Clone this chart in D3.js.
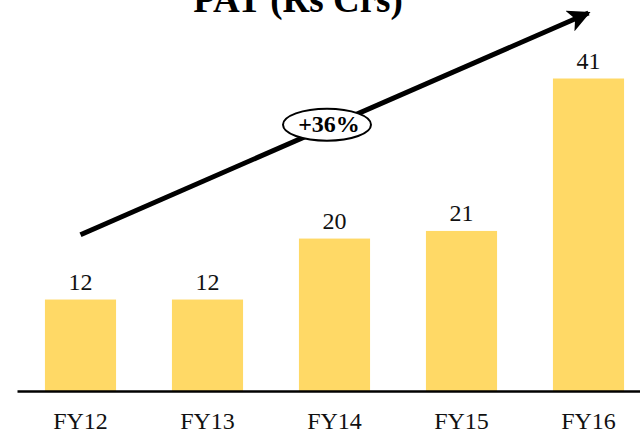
<!DOCTYPE html>
<html>
<head>
<meta charset="utf-8">
<script src="https://cdn.jsdelivr.net/npm/d3@7"></script>
<style>
  body { margin: 0; background: #fff; }
  svg { display: block; font-family: "Liberation Serif", "Times New Roman", serif; }
</style>
</head>
<body>
<div id="grafico"></div>
<script>
// Dados do gráfico
const anos = ["FY12", "FY13", "FY14", "FY15", "FY16"];
const valores = [12, 12, 20, 21, 41];
const titulo = "PAT (Rs Crs)";
const cagr = "+36%";
// seta de tendência (em unidades do gráfico)
const setaInicio = { ano: "FY12", valor: 20.5 };
const setaFim = { ano: "FY16", valor: 49.6 };

const width = 640, height = 435;
const base = 391;

const svg = d3.select("#grafico")
  .append("svg")
  .attr("width", width)
  .attr("height", height);

const x = d3.scaleBand()
  .domain(anos)
  .range([17, 652])
  .paddingInner(0.44)
  .paddingOuter(0.22);

const y = d3.scaleLinear()
  .domain([0, 51.3])
  .range([base, 0]);

// Título (cortado no topo, como no original)
svg.append("text")
  .attr("x", 298)
  .attr("y", 12)
  .attr("text-anchor", "middle")
  .attr("font-size", 37)
  .attr("font-weight", "bold")
  .text(titulo);

// Barras
svg.selectAll("rect.barra")
  .data(valores)
  .join("rect")
  .attr("class", "barra")
  .attr("x", (d, i) => x(anos[i]))
  .attr("y", d => y(d))
  .attr("width", x.bandwidth())
  .attr("height", d => base - y(d))
  .attr("fill", "#FFD966");

// Rótulos de valor
svg.selectAll("text.valor")
  .data(valores)
  .join("text")
  .attr("class", "valor")
  .attr("x", (d, i) => x(anos[i]) + x.bandwidth() / 2)
  .attr("y", d => y(d) - 10)
  .attr("text-anchor", "middle")
  .attr("font-size", 24)
  .attr("fill", "#111")
  .text(d => d);

// Eixo X
const eixo = svg.append("g")
  .attr("transform", `translate(0, ${base})`)
  .call(d3.axisBottom(x).tickSize(0).tickPadding(21));
eixo.select(".domain").attr("stroke", "#000").attr("stroke-width", 2.5);
eixo.selectAll("text")
  .attr("font-size", 24)
  .attr("font-family", "Liberation Serif, serif")
  .attr("fill", "#111");

// Seta de crescimento
svg.append("defs").append("marker")
  .attr("id", "ponta")
  .attr("viewBox", "0 0 10 10")
  .attr("refX", 9)
  .attr("refY", 5)
  .attr("markerWidth", 4.5)
  .attr("markerHeight", 4.5)
  .attr("markerUnits", "strokeWidth")
  .attr("orient", "auto")
  .append("path")
  .attr("d", "M0,0 L10,5 L0,10 L2.5,5 z")
  .attr("fill", "#000");

const x1 = x(setaInicio.ano) + x.bandwidth() / 2;
const y1 = y(setaInicio.valor);
const x2 = x(setaFim.ano) + x.bandwidth() / 2;
const y2 = y(setaFim.valor);

svg.append("line")
  .attr("x1", x1)
  .attr("y1", y1)
  .attr("x2", x2)
  .attr("y2", y2)
  .attr("stroke", "#000")
  .attr("stroke-width", 5)
  .attr("marker-end", "url(#ponta)");

// Elipse com CAGR
const cx = 327;
const cy = y1 + (y2 - y1) * (cx - x1) / (x2 - x1);
svg.append("ellipse")
  .attr("cx", cx)
  .attr("cy", cy - 2.5)
  .attr("rx", 44)
  .attr("ry", 16)
  .attr("fill", "#fff")
  .attr("stroke", "#000")
  .attr("stroke-width", 2);

svg.append("text")
  .attr("x", cx + 2)
  .attr("y", cy + 5)
  .attr("text-anchor", "middle")
  .attr("font-size", 24)
  .attr("font-weight", "bold")
  .text(cagr);
</script>
</body>
</html>
